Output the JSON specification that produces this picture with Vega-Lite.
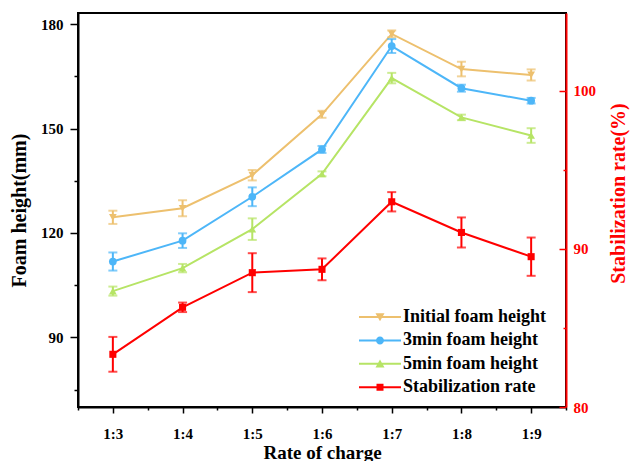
{
  "$schema": "https://vega.github.io/schema/vega-lite/v6.json",
  "width": 488,
  "height": 394,
  "autosize": {"type": "none"},
  "padding": {"left": 78, "top": 13, "right": 64, "bottom": 54},
  "background": "white",
  "config": {
    "font": "Liberation Serif",
    "view": {"stroke": "#000000", "strokeWidth": 2},
    "axis": {
      "grid": false,
      "labelFont": "Liberation Serif",
      "labelFontWeight": "bold",
      "labelFontSize": 15,
      "labelColor": "#000000",
      "titleFont": "Liberation Serif",
      "titleFontWeight": "bold",
      "titleFontSize": 20,
      "titleColor": "#000000",
      "domainColor": "#000000",
      "domainWidth": 2,
      "tickColor": "#000000",
      "tickWidth": 1.5,
      "labelOverlap": false,
      "labelFlush": false
    }
  },
  "data": {
    "values": [
      {"series": "Initial foam height", "charge": 3, "value": 124.5, "err": 1.9},
      {"series": "Initial foam height", "charge": 4, "value": 127.1, "err": 2.3},
      {"series": "Initial foam height", "charge": 5, "value": 136.6, "err": 1.5},
      {"series": "Initial foam height", "charge": 6, "value": 154.1, "err": 1.0},
      {"series": "Initial foam height", "charge": 7, "value": 177.2, "err": 1.0},
      {"series": "Initial foam height", "charge": 8, "value": 167.1, "err": 2.1},
      {"series": "Initial foam height", "charge": 9, "value": 165.4, "err": 1.6},
      {"series": "3min foam height", "charge": 3, "value": 111.8, "err": 2.6},
      {"series": "3min foam height", "charge": 4, "value": 117.8, "err": 2.1},
      {"series": "3min foam height", "charge": 5, "value": 130.4, "err": 2.7},
      {"series": "3min foam height", "charge": 6, "value": 144.0, "err": 1.0},
      {"series": "3min foam height", "charge": 7, "value": 173.7, "err": 2.0},
      {"series": "3min foam height", "charge": 8, "value": 161.6, "err": 1.0},
      {"series": "3min foam height", "charge": 9, "value": 158.0, "err": 0.8},
      {"series": "5min foam height", "charge": 3, "value": 103.3, "err": 1.3},
      {"series": "5min foam height", "charge": 4, "value": 109.9, "err": 1.2},
      {"series": "5min foam height", "charge": 5, "value": 121.1, "err": 3.1},
      {"series": "5min foam height", "charge": 6, "value": 137.0, "err": 0.7},
      {"series": "5min foam height", "charge": 7, "value": 164.5, "err": 1.5},
      {"series": "5min foam height", "charge": 8, "value": 153.2, "err": 0.8},
      {"series": "5min foam height", "charge": 9, "value": 148.0, "err": 2.1},
      {"series": "Stabilization rate", "charge": 3, "value": 83.33, "err": 1.1},
      {"series": "Stabilization rate", "charge": 4, "value": 86.3, "err": 0.3},
      {"series": "Stabilization rate", "charge": 5, "value": 88.49, "err": 1.23},
      {"series": "Stabilization rate", "charge": 6, "value": 88.7, "err": 0.69},
      {"series": "Stabilization rate", "charge": 7, "value": 92.97, "err": 0.61},
      {"series": "Stabilization rate", "charge": 8, "value": 91.03, "err": 0.95},
      {"series": "Stabilization rate", "charge": 9, "value": 89.5, "err": 1.21}
    ]
  },
  "encoding": {
    "x": {
      "field": "charge",
      "type": "quantitative",
      "scale": {"domain": [2.5, 9.5], "nice": false, "zero": false},
      "axis": {
        "title": "Rate of charge",
        "values": [2.5, 3, 3.5, 4, 4.5, 5, 5.5, 6, 6.5, 7, 7.5, 8, 8.5, 9, 9.5],
        "labelExpr": "datum.value % 1 === 0 ? '1:' + datum.value : ''",
        "tickSize": {"condition": {"test": "datum.value % 1 !== 0", "value": 3}, "value": 6},
        "labelBaseline": "alphabetic",
        "labelPadding": 25,
        "titleFontSize": 19,
        "titleBaseline": "alphabetic",
        "titleY": 51
      }
    }
  },
  "layer": [
    {
      "transform": [{"filter": "datum.series !== 'Stabilization rate'"}],
      "encoding": {
        "y": {
          "field": "value",
          "type": "quantitative",
          "scale": {"domain": [70, 183.2], "nice": false, "zero": false},
          "axis": {
            "orient": "left",
            "title": "Foam height(mm)",
            "values": [75, 90, 105, 120, 135, 150, 165, 180],
            "labelExpr": "datum.value % 30 === 0 ? datum.label : ''",
            "tickSize": {"condition": {"test": "datum.value % 30 !== 0", "value": 4}, "value": 8},
            "labelPadding": 7,
            "titleAngle": 270,
            "titleBaseline": "middle",
            "titleX": -59,
            "titleY": 197
          }
        }
      },
      "layer": [
        {
          "transform": [{"filter": "datum.series === 'Initial foam height'"}],
          "layer": [
            {"mark": {"type": "line", "strokeWidth": 2, "color": "#EDC06E"}, "encoding": {}},
            {
              "mark": {"type": "errorbar", "color": "#EDC06E", "thickness": 2, "ticks": {"size": 9, "thickness": 2}},
              "encoding": {"y": {"field": "value", "type": "quantitative"}, "yError": {"field": "err"}}
            },
            {"mark": {"type": "point", "shape": "triangle-down", "filled": true, "size": 60, "color": "#EDC06E", "opacity": 1}, "encoding": {}}
          ]
        },
        {
          "transform": [{"filter": "datum.series === '3min foam height'"}],
          "layer": [
            {"mark": {"type": "line", "strokeWidth": 2, "color": "#4DB6F8"}, "encoding": {}},
            {
              "mark": {"type": "errorbar", "color": "#4DB6F8", "thickness": 2, "ticks": {"size": 9, "thickness": 2}},
              "encoding": {"y": {"field": "value", "type": "quantitative"}, "yError": {"field": "err"}}
            },
            {"mark": {"type": "point", "shape": "circle", "filled": true, "size": 60, "color": "#4DB6F8", "opacity": 1}, "encoding": {}}
          ]
        },
        {
          "transform": [{"filter": "datum.series === '5min foam height'"}],
          "layer": [
            {"mark": {"type": "line", "strokeWidth": 2, "color": "#B6E465"}, "encoding": {}},
            {
              "mark": {"type": "errorbar", "color": "#B6E465", "thickness": 2, "ticks": {"size": 9, "thickness": 2}},
              "encoding": {"y": {"field": "value", "type": "quantitative"}, "yError": {"field": "err"}}
            },
            {"mark": {"type": "point", "shape": "triangle-up", "filled": true, "size": 60, "color": "#B6E465", "opacity": 1}, "encoding": {}}
          ]
        }
      ]
    },
    {
      "transform": [{"filter": "datum.series === 'Stabilization rate'"}],
      "encoding": {
        "y": {
          "field": "value",
          "type": "quantitative",
          "scale": {"domain": [80, 104.9], "nice": false, "zero": false},
          "axis": {
            "orient": "right",
            "title": "Stabilization rate(%)",
            "values": [80, 85, 90, 95, 100],
            "labelExpr": "datum.value % 10 === 0 ? datum.label : ''",
            "tickSize": {"condition": {"test": "datum.value % 10 !== 0", "value": -3}, "value": -7},
            "labelPadding": 14,
            "domainColor": "#FF0000",
            "tickColor": "#FF0000",
            "labelColor": "#FF0000",
            "titleColor": "#FF0000",
            "titleAngle": 270,
            "titleBaseline": "middle",
            "titleX": 52,
            "titleY": 180
          }
        }
      },
      "layer": [
        {"mark": {"type": "line", "strokeWidth": 2, "color": "#FF0000"}, "encoding": {}},
        {
          "mark": {"type": "errorbar", "color": "#FF0000", "thickness": 2, "ticks": {"size": 9, "thickness": 2}},
          "encoding": {"y": {"field": "value", "type": "quantitative"}, "yError": {"field": "err"}}
        },
        {"mark": {"type": "point", "shape": "square", "filled": true, "size": 50, "color": "#FF0000", "opacity": 1}, "encoding": {}}
      ]
    },
    {
      "mark": {"type": "point", "filled": true, "opacity": 0},
      "encoding": {
        "color": {
          "field": "series",
          "type": "nominal",
          "scale": {
            "domain": ["Initial foam height", "3min foam height", "5min foam height", "Stabilization rate"],
            "range": ["#EDC06E", "#4DB6F8", "#B6E465", "#FF0000"]
          },
          "legend": {
            "title": null,
            "orient": "none",
            "legendX": 293,
            "legendY": 295,
            "padding": 0,
            "symbolSize": 100,
            "symbolOpacity": 1,
            "symbolStrokeWidth": 0,
            "labelOffset": 14,
            "labelFont": "Liberation Serif",
            "labelFontWeight": "bold",
            "labelFontSize": 18,
            "labelColor": "#000000",
            "labelLimit": 300,
            "rowPadding": 5.4
          }
        },
        "shape": {
          "field": "series",
          "type": "nominal",
          "scale": {
            "domain": ["Initial foam height", "3min foam height", "5min foam height", "Stabilization rate"],
            "range": [
              "M-4.2,-0.2H4.2V0.2H-4.2Z M-0.9,-0.75H0.9L0,0.85Z",
              "M-4.2,-0.2H4.2V0.2H-4.2Z M-0.8,0A0.8,0.8 0 1,1 0.8,0A0.8,0.8 0 1,1 -0.8,0Z",
              "M-4.2,-0.2H4.2V0.2H-4.2Z M0,-0.85L0.9,0.75H-0.9Z",
              "M-4.2,-0.2H4.2V0.2H-4.2Z M-0.7,-0.7H0.7V0.7H-0.7Z"
            ]
          },
          "legend": {
            "title": null,
            "orient": "none",
            "legendX": 293,
            "legendY": 295,
            "padding": 0,
            "symbolSize": 100,
            "symbolOpacity": 1,
            "symbolStrokeWidth": 0,
            "labelOffset": 14,
            "labelFont": "Liberation Serif",
            "labelFontWeight": "bold",
            "labelFontSize": 18,
            "labelColor": "#000000",
            "labelLimit": 300,
            "rowPadding": 5.4
          }
        }
      }
    }
  ],
  "resolve": {"scale": {"y": "independent"}}
}
